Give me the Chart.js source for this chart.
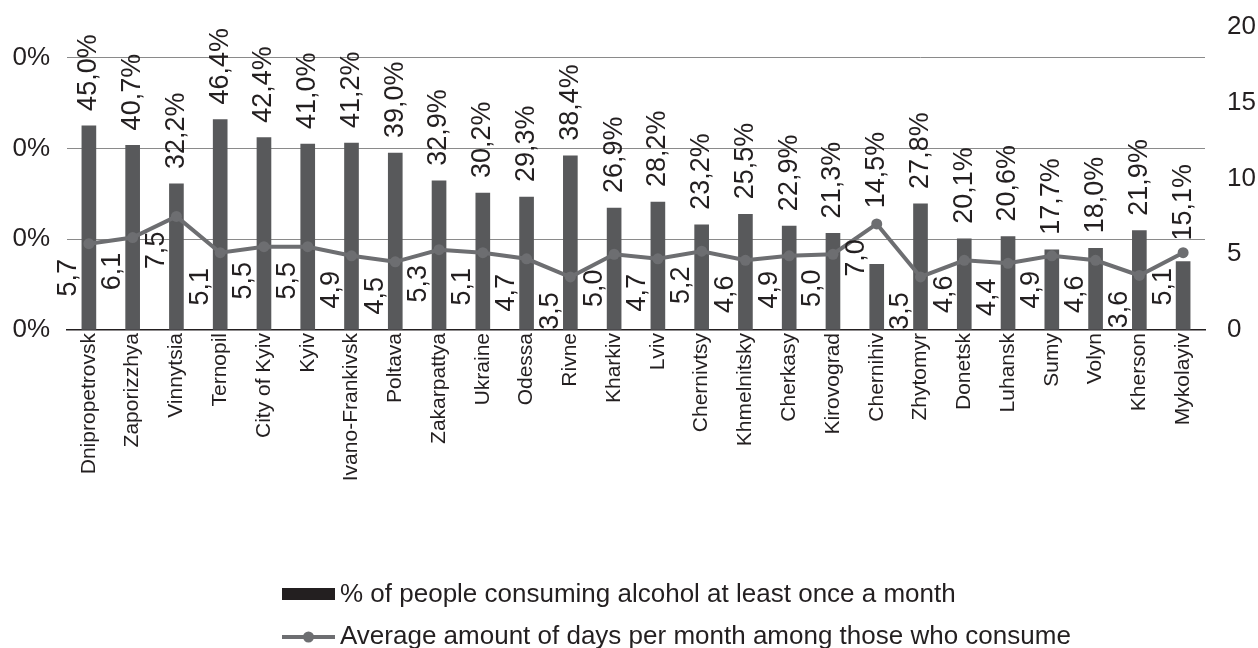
<!DOCTYPE html>
<html>
<head>
<meta charset="utf-8">
<script src="https://cdn.jsdelivr.net/npm/chart.js@4.4.1/dist/chart.umd.min.js"></script>
<style>
  html, body { margin: 0; padding: 0; background: #fff; overflow: hidden; }
  #chart { display: block; clip-path: inset(0 0 0 13px); }
</style>
</head>
<body>
<canvas id="chart" width="1258" height="648"></canvas>
<script>
const regions = ["Dnipropetrovsk", "Zaporizzhya", "Vinnytsia", "Ternopil", "City of Kyiv", "Kyiv",
  "Ivano-Frankivsk", "Poltava", "Zakarpattya", "Ukraine", "Odessa", "Rivne", "Kharkiv", "Lviv",
  "Chernivtsy", "Khmelnitsky", "Cherkasy", "Kirovograd", "Chernihiv", "Zhytomyr", "Donetsk",
  "Luhansk", "Sumy", "Volyn", "Kherson", "Mykolayiv"];
const alcoholShare = [45.0, 40.7, 32.2, 46.4, 42.4, 41.0, 41.2, 39.0, 32.9, 30.2, 29.3, 38.4, 26.9,
  28.2, 23.2, 25.5, 22.9, 21.3, 14.5, 27.8, 20.1, 20.6, 17.7, 18.0, 21.9, 15.1];
const drinkingDays = [5.7, 6.1, 7.5, 5.1, 5.5, 5.5, 4.9, 4.5, 5.3, 5.1, 4.7, 3.5, 5.0, 4.7, 5.2,
  4.6, 4.9, 5.0, 7.0, 3.5, 4.6, 4.4, 4.9, 4.6, 3.6, 5.1];
const shareTicks = [0, 20, 40, 60];
const dayTicks = [0, 5, 10, 15, 20];

const ink = "#231f20";
const barColor = "#58595b";
const lineColor = "#6d6e71";
const FONT = "'Liberation Sans', Arial, sans-serif";

// some bar labels were pushed up to keep clear of the line
const labelLift = { Chernihiv: 41, Mykolayiv: 6 };

const fmt = v => v.toFixed(1).replace(".", ",");

// fixed axis widths; no extra room reserved above/below for tick labels
const fixWidth = w => s => { s.width = w; s.paddingTop = 0; s.paddingBottom = 0; };

const valueLabels = {
  id: "valueLabels",
  afterDatasetsDraw(chart) {
    const ctx = chart.ctx;
    ctx.save();
    ctx.fillStyle = ink;
    ctx.font = "27px " + FONT;
    ctx.textBaseline = "middle";
    chart.getDatasetMeta(0).data.forEach((bar, i) => {
      ctx.save();
      ctx.translate(bar.x, bar.y - 15 - (labelLift[regions[i]] || 0));
      ctx.rotate(-Math.PI / 2);
      ctx.textAlign = "left";
      ctx.fillText(fmt(alcoholShare[i]) + "%", 0, 0);
      ctx.restore();
    });
    chart.getDatasetMeta(1).data.forEach((pt, i) => {
      ctx.save();
      ctx.translate(pt.x - 20, pt.y + 34);
      ctx.rotate(-Math.PI / 2);
      ctx.textAlign = "center";
      ctx.fillText(fmt(drinkingDays[i]), 0, 0);
      ctx.restore();
    });
    ctx.restore();
  }
};

// two stacked legend rows under the axis labels
const stackedLegend = {
  id: "stackedLegend",
  afterDraw(chart) {
    const ctx = chart.ctx;
    const ds = chart.data.datasets;
    const x0 = 282, x1 = 335, tx = 340;
    ctx.save();
    ctx.font = "26px " + FONT;
    ctx.fillStyle = ink;
    ctx.textBaseline = "alphabetic";
    ctx.fillRect(x0, 588, x1 - x0, 12);
    ctx.fillText(ds[0].label, tx, 602);

    ctx.strokeStyle = lineColor;
    ctx.lineWidth = 4;
    ctx.beginPath();
    ctx.moveTo(x0, 637);
    ctx.lineTo(x1, 637);
    ctx.stroke();
    ctx.fillStyle = lineColor;
    ctx.beginPath();
    ctx.arc((x0 + x1) / 2, 637, 5.5, 0, Math.PI * 2);
    ctx.fill();
    ctx.fillStyle = ink;
    ctx.fillText(ds[1].label, tx, 644);
    ctx.restore();
  }
};

new Chart(document.getElementById("chart"), {
  data: {
    labels: regions,
    datasets: [
      {
        type: "bar",
        label: "% of people consuming alcohol at least once a month",
        data: alcoholShare,
        backgroundColor: barColor,
        barThickness: 14,
        yAxisID: "y",
        order: 2
      },
      {
        type: "line",
        label: "Average amount of days per month among those who consume",
        data: drinkingDays,
        borderColor: lineColor,
        backgroundColor: lineColor,
        borderWidth: 4,
        pointRadius: 5.5,
        pointBackgroundColor: lineColor,
        pointBorderWidth: 0,
        tension: 0,
        yAxisID: "y1",
        order: 1
      }
    ]
  },
  options: {
    responsive: false,
    animation: false,
    layout: { padding: { top: 27, right: 0, bottom: 0, left: 0 } },
    plugins: {
      legend: { display: false },
      tooltip: { enabled: false }
    },
    scales: {
      x: {
        grid: { display: false, drawTicks: false },
        border: { color: ink, width: 1.5 },
        ticks: {
          autoSkip: false, minRotation: 90, maxRotation: 90, padding: 3,
          color: ink, font: { family: FONT, size: 21 }
        },
        afterFit: s => { s.height = 318; }
      },
      y: {
        position: "left",
        min: 0,
        max: 66.8,
        afterBuildTicks: s => { s.ticks = shareTicks.map(v => ({ value: v })); },
        grid: {
          drawTicks: false,
          lineWidth: 1,
          color: c => (c.tick && c.tick.value === 0 ? "rgba(0,0,0,0)" : "#8a8a8a")
        },
        border: { display: false },
        ticks: {
          padding: 17, color: ink, font: { family: FONT, size: 26 },
          callback: v => v + "%"
        },
        afterFit: fixWidth(67)
      },
      y1: {
        position: "right",
        min: 0,
        max: 20,
        afterBuildTicks: s => { s.ticks = dayTicks.map(v => ({ value: v })); },
        grid: { display: false, drawTicks: false },
        border: { display: false },
        ticks: { padding: 22, color: ink, font: { family: FONT, size: 26 } },
        afterFit: fixWidth(53)
      }
    }
  },
  plugins: [valueLabels, stackedLegend]
});
</script>
</body>
</html>
